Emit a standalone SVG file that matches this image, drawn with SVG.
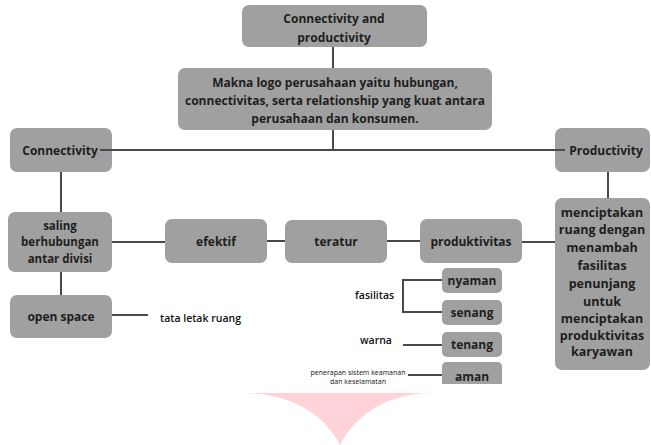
<svg xmlns="http://www.w3.org/2000/svg" width="651" height="445" viewBox="0 0 651 445">
<style>
.box{fill:#a0a0a0;}
.t{font-family:"Open Sans","Liberation Sans",sans-serif;font-weight:700;font-size:12px;fill:#1e1e1e;text-anchor:middle;dominant-baseline:central;}
.m{font-size:12.5px;}
.sl{font-size:11.5px;}
.s{font-family:"Open Sans","Liberation Sans",sans-serif;font-weight:600;font-size:10.5px;fill:#111;dominant-baseline:central;}
.c{stroke:#4a4a4a;stroke-width:2;fill:none;}
</style>
<rect width="651" height="445" fill="#ffffff"/>
<path d="M242,393 C292,393 325,415 340,445 C355,415 388,393 433,393 Z" fill="#ffd3d7"/>
<g id="n-top"><rect class="box" x="242" y="5" width="185" height="42" rx="7"/>
<text class="t" x="334" y="18">Connectivity and</text><text class="t" x="334" y="37">productivity</text></g>
<g id="n-makna"><rect class="box" x="178" y="68" width="314" height="62" rx="7"/>
<text class="t" x="335" y="82">Makna logo perusahaan yaitu hubungan,</text>
<text class="t" x="335" y="100">connectivitas, serta relationship yang kuat antara</text>
<text class="t" x="335" y="118">perusahaan dan konsumen.</text></g>
<g id="n-connectivity"><rect class="box" x="10" y="128" width="102" height="44" rx="7"/>
<text class="t" x="60" y="150">Connectivity</text></g>
<g id="n-productivity"><rect class="box" x="555" y="128" width="95" height="44" rx="7"/>
<text class="t" x="606" y="150">Productivity</text></g>
<g id="n-saling"><rect class="box" x="8" y="212" width="104" height="60" rx="7"/>
<text class="t sl" x="60" y="225">saling</text><text class="t sl" x="60" y="241.5">berhubungan</text><text class="t sl" x="60" y="258">antar divisi</text></g>
<g id="n-efektif"><rect class="box" x="165" y="219" width="102" height="44" rx="7"/>
<text class="t" x="216" y="241">efektif</text></g>
<g id="n-teratur"><rect class="box" x="285" y="220" width="102" height="43" rx="7"/>
<text class="t" x="336" y="241">teratur</text></g>
<g id="n-produktivitas"><rect class="box" x="420" y="219" width="102" height="44" rx="7"/>
<text class="t" x="471" y="241">produktivitas</text></g>
<g id="n-mencip"><rect class="box" x="555" y="198" width="95" height="172" rx="7"/>
<text class="t m" x="602" y="212">menciptakan</text><text class="t m" x="602" y="229">ruang dengan</text><text class="t m" x="602" y="247">menambah</text><text class="t m" x="602" y="265">fasilitas</text><text class="t m" x="602" y="283">penunjang</text><text class="t m" x="602" y="301">untuk</text><text class="t m" x="602" y="318">menciptakan</text><text class="t m" x="602" y="335">produktivitas</text><text class="t m" x="602" y="351">karyawan</text></g>
<g id="n-open"><rect class="box" x="10" y="295" width="102" height="43" rx="7"/>
<text class="t" x="61" y="316">open space</text></g>
<g id="n-nyaman"><rect class="box" x="442" y="268" width="60" height="25" rx="5"/><text class="t" x="472" y="280">nyaman</text></g>
<g id="n-senang"><rect class="box" x="442" y="300" width="60" height="25" rx="5"/><text class="t" x="472" y="312">senang</text></g>
<g id="n-tenang"><rect class="box" x="442" y="332" width="60" height="25" rx="5"/><text class="t" x="472" y="344">tenang</text></g>
<g id="n-aman"><path class="box" d="M442,384 V367 Q442,362 447,362 H497 Q502,362 502,367 V384 Z"/><text class="t" x="472" y="376">aman</text></g>
<g id="labels">
<text class="s" x="160" y="318">tata letak ruang</text>
<text class="s" x="355" y="295">fasilitas</text>
<text class="s" x="360" y="340">warna</text>
<text class="s" x="358" y="372" style="font-size:7px;font-weight:400;text-anchor:middle">penerapan sistem keamanan</text>
<text class="s" x="358" y="381" style="font-size:7px;font-weight:400;text-anchor:middle">dan keselamatan</text>
</g>
<g id="connectors">
<line class="c" x1="333" y1="47" x2="333" y2="68"/>
<line class="c" x1="333" y1="130" x2="333" y2="150"/>
<line class="c" x1="100" y1="150" x2="565" y2="150"/>
<line class="c" x1="61" y1="172" x2="61" y2="212"/>
<line class="c" x1="608" y1="172" x2="608" y2="198"/>
<line class="c" x1="112" y1="242" x2="165" y2="242"/>
<line class="c" x1="267" y1="241" x2="285" y2="241"/>
<line class="c" x1="387" y1="241" x2="420" y2="241"/>
<line class="c" x1="522" y1="242" x2="555" y2="242"/>
<line class="c" x1="61" y1="272" x2="61" y2="295"/>
<line class="c" x1="112" y1="315" x2="148" y2="315"/>
<path class="c" d="M442,280 H403 V312 H442"/>
<line class="c" x1="403" y1="345" x2="442" y2="345"/>
<line class="c" x1="408" y1="375" x2="442" y2="375"/>
</g>
</svg>
